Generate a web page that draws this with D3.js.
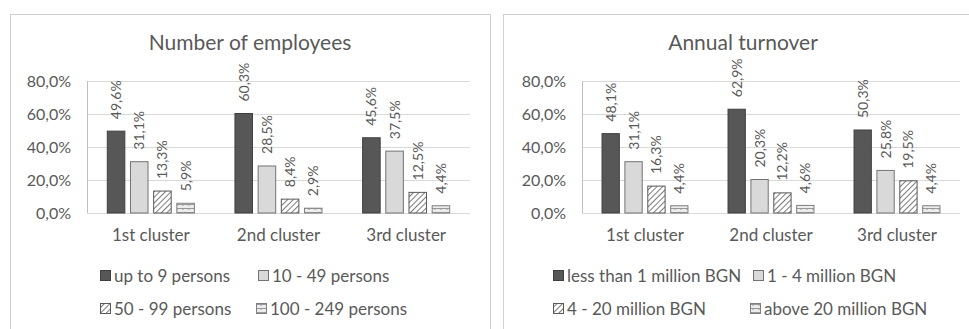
<!DOCTYPE html>
<html>
<head>
<meta charset="utf-8">
<script src="https://cdn.jsdelivr.net/npm/d3@7"></script>
<style>
  html, body { margin: 0; padding: 0; background: #fff; }
  svg { display: block; font-family: Lato, "Open Sans", sans-serif; }
</style>
</head>
<body>
<svg id="chart" width="969" height="329"></svg>
<script>
// Cluster categories shared by both panels
const clusters = ["1st cluster", "2nd cluster", "3rd cluster"];
const yTicks = [0, 20, 40, 60, 80];

// Number of employees (% of firms per cluster)
const employeeSeries = ["up to 9 persons", "10 - 49 persons", "50 - 99 persons", "100 - 249 persons"];
const employeesUpTo9 = [49.6, 60.3, 45.6];
const employees10to49 = [31.1, 28.5, 37.5];
const employees50to99 = [13.3, 8.4, 12.5];
const employees100to249 = [5.9, 2.9, 4.4];

// Annual turnover (% of firms per cluster)
const turnoverSeries = ["less than 1 million BGN", "1 - 4 million BGN", "4 - 20 million BGN", "above 20 million BGN"];
const turnoverUnder1 = [48.1, 62.9, 50.3];
const turnover1to4 = [31.1, 20.3, 25.8];
const turnover4to20 = [16.3, 12.2, 19.5];
const turnoverOver20 = [4.4, 4.6, 4.4];

const svg = d3.select("#chart");
const fmt = v => d3.format(".1f")(v).replace(".", ",") + "%";
const textColor = "#595959";
const fontFamily = "Lato, 'Open Sans', sans-serif";

// Fill patterns for the third and fourth series
const defs = svg.append("defs");
const hatch = defs.append("pattern")
  .attr("id", "hatch").attr("patternUnits", "userSpaceOnUse")
  .attr("width", 4).attr("height", 4).attr("patternTransform", "rotate(45)");
hatch.append("rect").attr("width", 4).attr("height", 4).attr("fill", "#fff");
hatch.append("line").attr("x1", 0).attr("y1", 0).attr("x2", 0).attr("y2", 4)
  .attr("stroke", "#595959").attr("stroke-width", 1.6);

const brick = defs.append("pattern")
  .attr("id", "brick").attr("patternUnits", "userSpaceOnUse")
  .attr("width", 6).attr("height", 4);
brick.append("rect").attr("width", 6).attr("height", 4).attr("fill", "#ececec");
brick.append("line").attr("x1", 0).attr("y1", 0.5).attr("x2", 6).attr("y2", 0.5)
  .attr("stroke", "#999").attr("stroke-width", 1);
brick.append("line").attr("x1", 3).attr("y1", 0).attr("x2", 3).attr("y2", 2)
  .attr("stroke", "#999").attr("stroke-width", 1);

const seriesStyle = [
  { fill: "#575757", stroke: "#3f3f3f" },
  { fill: "#d9d9d9", stroke: "#737373" },
  { fill: "url(#hatch)", stroke: "#595959" },
  { fill: "url(#brick)", stroke: "#7f7f7f" }
];

function drawPanel(cfg) {
  const g = svg.append("g");

  // Panel frame
  g.append("rect")
    .attr("x", cfg.box[0] + 0.5).attr("y", cfg.box[1] + 0.5)
    .attr("width", cfg.box[2]).attr("height", cfg.box[3])
    .attr("fill", "#fff").attr("stroke", "#d0d0d0");

  g.append("text")
    .attr("x", cfg.titleX).attr("y", 50)
    .attr("text-anchor", "middle")
    .attr("font-size", 21).attr("fill", textColor)
    .text(cfg.title);

  const y = d3.scaleLinear().domain([0, 80]).range([213, 81]);
  const x0 = d3.scaleBand().domain(clusters).range([cfg.left, cfg.right]).paddingInner(0.31).paddingOuter(0.155);
  const x1 = d3.scaleBand().domain(d3.range(4)).range([0, x0.bandwidth()]).paddingInner(0.2);

  // Gridlines
  g.append("g").selectAll("line").data(yTicks).join("line")
    .attr("x1", cfg.left).attr("x2", cfg.right)
    .attr("y1", d => Math.round(y(d)) + 0.5).attr("y2", d => Math.round(y(d)) + 0.5)
    .attr("stroke", "#d9d9d9");

  // Vertical axis line and labels
  g.append("line")
    .attr("x1", cfg.left + 0.5).attr("x2", cfg.left + 0.5)
    .attr("y1", y(80)).attr("y2", y(0))
    .attr("stroke", "#bfbfbf");
  const yAxis = g.append("g")
    .attr("transform", `translate(${cfg.left - 16},0)`)
    .call(d3.axisLeft(y).tickValues(yTicks).tickFormat(fmt).tickSize(0).tickPadding(0));
  yAxis.select(".domain").remove();
  yAxis.selectAll("text").attr("fill", textColor).attr("font-size", 16)
    .attr("font-family", fontFamily);

  // Category axis labels
  const xAxis = g.append("g")
    .attr("transform", `translate(0,${y(0)})`)
    .call(d3.axisBottom(x0).tickSize(0).tickPadding(16));
  xAxis.select(".domain").remove();
  xAxis.selectAll("text").attr("fill", textColor).attr("font-size", 17)
    .attr("font-family", fontFamily);

  // Bars and rotated value labels
  cfg.values.forEach((vals, si) => {
    const s = seriesStyle[si];
    const grp = g.append("g");
    grp.selectAll("rect").data(vals).join("rect")
      .attr("x", (d, i) => x0(clusters[i]) + x1(si) + 0.5)
      .attr("y", d => y(d))
      .attr("width", x1.bandwidth() - 1)
      .attr("height", d => y(0) - y(d))
      .attr("fill", s.fill).attr("stroke", s.stroke).attr("stroke-width", 1);
    grp.selectAll("text").data(vals).join("text")
      .attr("transform", (d, i) => {
        const cx = x0(clusters[i]) + x1(si) + x1.bandwidth() / 2 + 5;
        return `translate(${cx},${y(d) - 12}) rotate(-90)`;
      })
      .attr("font-size", 14).attr("fill", textColor)
      .text(d => fmt(d));
  });

  // Legend, two rows of two entries
  cfg.series.forEach((name, si) => {
    const col = si % 2, row = Math.floor(si / 2);
    const lx = cfg.legendX[row][col];
    const ly = row === 0 ? 276 : 309;
    const s = seriesStyle[si];
    g.append("rect")
      .attr("x", lx + 0.5).attr("y", ly - 5.5)
      .attr("width", 10).attr("height", 10)
      .attr("fill", s.fill).attr("stroke", s.stroke);
    g.append("text")
      .attr("x", lx + 14).attr("y", ly + 6)
      .attr("font-size", 17).attr("fill", textColor)
      .text(name);
  });
}

drawPanel({
  box: [10, 14, 480, 330],
  title: "Number of employees",
  titleX: 250,
  left: 87, right: 470,
  values: [employeesUpTo9, employees10to49, employees50to99, employees100to249],
  series: employeeSeries,
  legendX: [[100, 258], [100, 256]]
});

drawPanel({
  box: [503, 14, 480, 330],
  title: "Annual turnover",
  titleX: 743,
  left: 582, right: 960,
  values: [turnoverUnder1, turnover1to4, turnover4to20, turnoverOver20],
  series: turnoverSeries,
  legendX: [[553, 753], [553, 750]]
});
</script>
</body>
</html>
